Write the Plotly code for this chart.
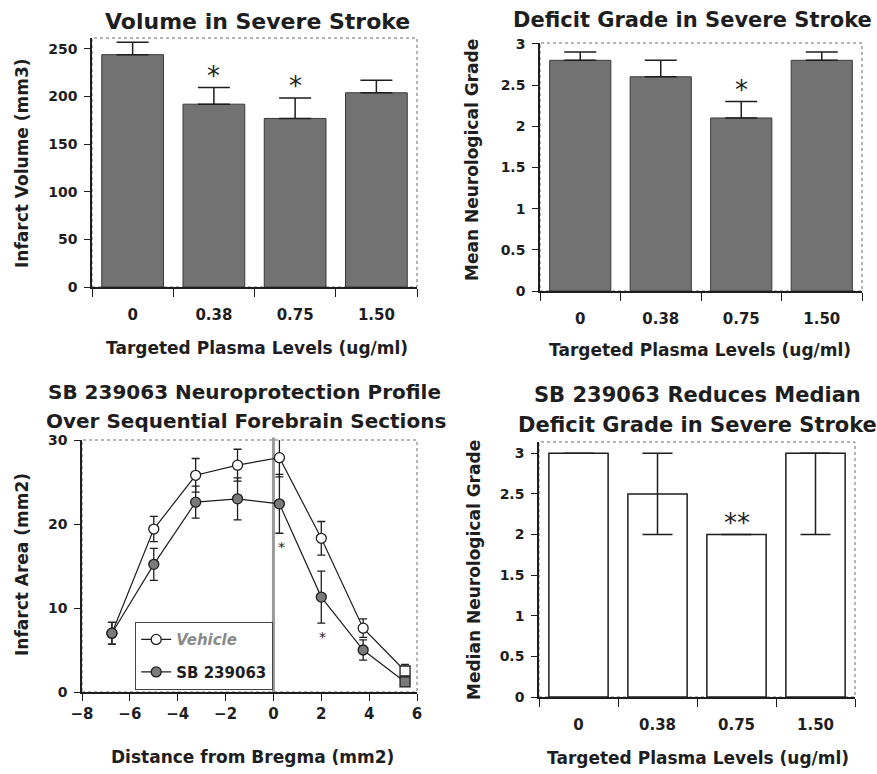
import plotly.graph_objects as go

# ---- data -------------------------------------------------------------
dose_labels = ["0", "0.38", "0.75", "1.50"]

volume_mean = [244, 192, 177, 204]
volume_sem = [13, 17.5, 21.5, 13]
volume_sig = ["", "*", "*", ""]

grade_mean = [2.8, 2.6, 2.1, 2.8]
grade_sem = [0.1, 0.2, 0.2, 0.1]
grade_sig = ["", "", "*", ""]

bregma_mm = [-6.75, -5.0, -3.25, -1.5, 0.25, 2.0, 3.75, 5.5]
vehicle_area = [7.0, 19.4, 25.8, 27.0, 27.9, 18.3, 7.6, 2.5]
vehicle_err = [1.3, 1.5, 2.0, 1.9, 2.3, 2.0, 1.1, 0.8]
sb_area = [7.0, 15.2, 22.6, 23.0, 22.4, 11.3, 5.0, 1.2]
sb_err = [1.3, 1.9, 1.9, 2.5, 3.5, 3.1, 1.2, 0.4]
area_sig_x = [0.35, 2.05]
area_sig_y = [17.3, 6.6]

median_grade = [3, 2.5, 2, 3]
median_upper = [0, 0.5, 0, 0]
median_lower = [0, 0.5, 0, 1]
median_sig = ["", "", "**", ""]

grade_tickvals = [0, 0.5, 1, 1.5, 2, 2.5, 3]
grade_ticktext = ["0", "0.5", "1", "1.5", "2", "2.5", "3"]

# ---- layout helpers ---------------------------------------------------
W, H = 877, 774
FONT = "DejaVu Sans, Liberation Sans, Arial, sans-serif"
INK = "#1e1e1e"
BAR_GRAY = "#727272"


def px(x):
    return x / W


def py(y):
    return 1 - y / H


fig = go.Figure()

# top-left: infarct volume
fig.add_trace(go.Bar(
    x=dose_labels, y=volume_mean, width=0.76,
    marker=dict(color=BAR_GRAY, line=dict(color="#3a3a3a", width=1)),
    error_y=dict(type="data", symmetric=False, array=volume_sem,
                 arrayminus=[0] * 4, color=INK, thickness=1.5, width=16),
    xaxis="x", yaxis="y", showlegend=False))

# top-right: mean neurological grade
fig.add_trace(go.Bar(
    x=dose_labels, y=grade_mean, width=0.76,
    marker=dict(color=BAR_GRAY, line=dict(color="#3a3a3a", width=1)),
    error_y=dict(type="data", symmetric=False, array=grade_sem,
                 arrayminus=[0] * 4, color=INK, thickness=1.5, width=16),
    xaxis="x2", yaxis="y2", showlegend=False))

# bottom-left: infarct area over forebrain sections
fig.add_trace(go.Scatter(
    x=bregma_mm, y=vehicle_area, mode="lines+markers",
    name="<i><span style='color:#8a8a8a'>Vehicle</span></i>",
    legendgroup="vehicle",
    line=dict(color=INK, width=1.2),
    marker=dict(symbol=["circle"] * 7 + ["square"], size=10,
                color="white", line=dict(color=INK, width=1.3)),
    error_y=dict(type="data", array=vehicle_err, color=INK,
                 thickness=1.3, width=4),
    xaxis="x3", yaxis="y3"))
fig.add_trace(go.Scatter(
    x=bregma_mm, y=sb_area, mode="lines+markers",
    name="SB 239063", legendgroup="sb",
    line=dict(color=INK, width=1.2),
    marker=dict(symbol=["circle"] * 7 + ["square"], size=10,
                color="#7a7a7a", line=dict(color=INK, width=1.3)),
    error_y=dict(type="data", array=sb_err, color=INK,
                 thickness=1.3, width=4),
    xaxis="x3", yaxis="y3"))

# bottom-right: median neurological grade
fig.add_trace(go.Bar(
    x=dose_labels, y=median_grade, width=0.75,
    marker=dict(color="white", line=dict(color=INK, width=1.5)),
    error_y=dict(type="data", symmetric=False, array=median_upper,
                 arrayminus=median_lower, color=INK, thickness=1.5,
                 width=15),
    xaxis="x4", yaxis="y4", showlegend=False))

x_tick_font = dict(family=FONT, size=15, color=INK, weight="bold")
y_tick_font = dict(family=FONT, size=14, color=INK, weight="bold")

cat_x = dict(type="category", range=[-0.5, 3.5], showline=True,
             linecolor=INK, linewidth=1.5, ticks="outside",
             tickson="boundaries", ticklen=8, tickcolor=INK, tickwidth=1.3,
             tickfont=x_tick_font, ticklabelstandoff=13, showgrid=False,
             zeroline=False, automargin=False)
val_y = dict(showline=True, linecolor=INK, linewidth=1.5, ticks="outside",
             ticklen=6, tickcolor=INK, tickwidth=1.3, tickfont=y_tick_font,
             ticklabelstandoff=4, showgrid=False, zeroline=False,
             automargin=False)

fig.update_layout(
    width=W, height=H,
    margin=dict(l=0, r=0, t=0, b=0),
    paper_bgcolor="white", plot_bgcolor="white",
    font=dict(family=FONT, color=INK),
    xaxis=dict(cat_x, domain=[px(92), px(417)], anchor="y"),
    yaxis=dict(val_y, domain=[py(287), py(38)], range=[0, 261.5],
               tickvals=[0, 50, 100, 150, 200, 250], anchor="x"),
    xaxis2=dict(cat_x, domain=[px(540), px(862)], anchor="y2"),
    yaxis2=dict(val_y, tickvals=grade_tickvals, ticktext=grade_ticktext,
                domain=[py(291), py(43)], range=[0, 3.01], anchor="x2"),
    xaxis3=dict(showline=True, linecolor=INK, linewidth=1.5,
                ticks="outside", ticklen=7, tickcolor=INK, tickwidth=1.3,
                tickfont=x_tick_font, ticklabelstandoff=0,
                range=[-8, 6], tickvals=[-8, -6, -4, -2, 0, 2, 4, 6],
                showgrid=False, zeroline=False, automargin=False,
                domain=[px(82), px(417)], anchor="y3"),
    yaxis3=dict(val_y, domain=[py(692), py(440)], range=[0, 30],
                tickvals=[0, 10, 20, 30], anchor="x3"),
    xaxis4=dict(cat_x, domain=[px(539), px(855)], anchor="y4"),
    yaxis4=dict(val_y, tickvals=grade_tickvals, ticktext=grade_ticktext,
                domain=[py(697), py(442)], range=[0, 3.14], anchor="x4"),
    legend=dict(x=px(135), y=py(622), xanchor="left", yanchor="top",
                bgcolor="white", bordercolor="#444", borderwidth=1.2,
                font=dict(family=FONT, size=15, color=INK, weight="bold"),
                itemwidth=30, tracegroupgap=10),
)

# light frame around each plotting area (top and right edges)
for xr, yr in [("x", "y"), ("x2", "y2"), ("x3", "y3"), ("x4", "y4")]:
    fig.add_shape(type="rect", xref=f"{xr} domain", yref=f"{yr} domain",
                  x0=0, x1=1, y0=0, y1=1, layer="below",
                  line=dict(color="#6a6a6a", width=1, dash="dot"))

# bregma reference line
fig.add_shape(type="line", xref="x3", yref="y3 domain", x0=0, x1=0,
              y0=0, y1=1.01, layer="below",
              line=dict(color="#9a9a9a", width=3))

ann = []


def text(x, y, s, size, angle=0, color=INK):
    ann.append(dict(x=px(x), y=py(y), xref="paper", yref="paper", text=s,
                    showarrow=False, textangle=angle, xanchor="center",
                    yanchor="middle",
                    font=dict(family=FONT, size=size, color=color,
                              weight="bold")))


# panel titles
text(257, 22, "Volume in Severe Stroke", 22)
text(692, 20, "Deficit Grade in Severe Stroke", 21)
text(244, 392, "SB 239063 Neuroprotection Profile", 20)
text(246, 421, "Over Sequential Forebrain Sections", 20)
text(697, 395, "SB 239063 Reduces Median", 21)
text(697, 425, "Deficit Grade in Severe Stroke", 21)

# axis titles
text(257, 348, "Targeted Plasma Levels (ug/ml)", 17)
text(700, 350, "Targeted Plasma Levels (ug/ml)", 17)
text(252, 757, "Distance from Bregma (mm2)", 17)
text(698, 758, "Targeted Plasma Levels (ug/ml)", 17)
text(22, 163, "Infarct Volume (mm3)", 17, -90)
text(472, 160, "Mean Neurological Grade", 17, -90)
text(22, 565, "Infarct Area (mm2)", 17, -90)
text(474, 570, "Median Neurological Grade", 17, -90)

# significance markers above the bars (placed by category index)
for xa, ya, vals, errs, marks in [
        ("x", "y", volume_mean, volume_sem, volume_sig),
        ("x2", "y2", grade_mean, grade_sem, grade_sig),
        ("x4", "y4", median_grade, median_upper, median_sig)]:
    for i, (v, e, m) in enumerate(zip(vals, errs, marks)):
        if m:
            ann.append(dict(x=i, y=v + e, xref=xa, yref=ya, text=m,
                            showarrow=False, yanchor="bottom", yshift=-5,
                            font=dict(family=FONT, size=26, color=INK)))
for sx, sy in zip(area_sig_x, area_sig_y):
    ann.append(dict(x=sx, y=sy, xref="x3", yref="y3", text="*",
                    showarrow=False,
                    font=dict(family=FONT, size=14, color=INK)))

fig.update_layout(annotations=ann)

fig.write_html("out.html")
